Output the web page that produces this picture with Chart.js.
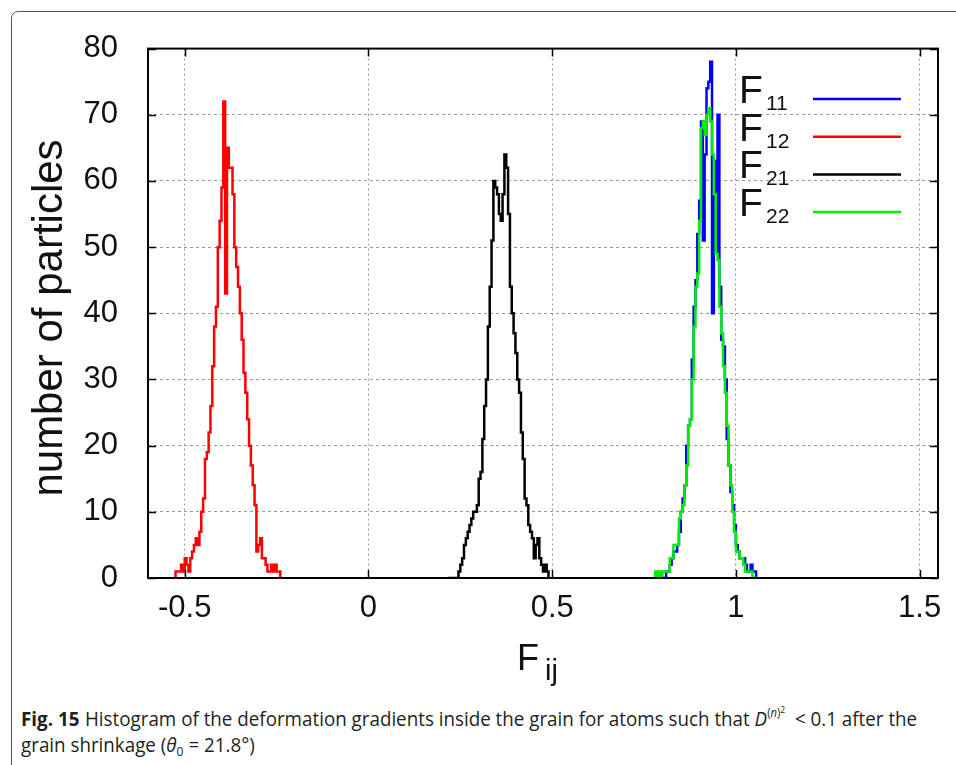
<!DOCTYPE html>
<html>
<head>
<meta charset="utf-8">
<script src="https://cdn.jsdelivr.net/npm/chart.js@4/dist/chart.umd.min.js"></script>
<style>
  html, body { margin: 0; padding: 0; background: #fff; width: 956px; height: 765px; overflow: hidden; }
  #frame { position: absolute; left: 11px; top: 11px; width: 980px; height: 800px; border: 1.5px solid #555; border-radius: 7px; box-sizing: border-box; }
  #wrap { position: absolute; left: 0; top: 0; width: 956px; height: 700px; }
  #caption { position: absolute; left: 21px; top: 706px; font: 20px "Open Sans", sans-serif; line-height: 26px; color: #231f20; white-space: nowrap; transform-origin: 0 0; }
  #caption div { line-height: 26px; height: 26px; }
  #caption b { font-weight: bold; margin-right: 6px; }
  #caption sup, #caption sub { line-height: 0; vertical-align: baseline; position: relative; }
</style>
</head>
<body>
<div id="frame"></div>
<div id="wrap"><canvas id="chart" width="956" height="700"></canvas></div>
<div id="caption">
  <div id="cap1"><b>Fig. 15</b>Histogram of the deformation gradients inside the grain for atoms such that <i>D</i><sup style="font-size:12px;top:-9px">(<i>n</i>)<sup style="font-size:9px;top:-4px">2</sup></sup> &nbsp;&lt; 0.1 after the</div>
  <div>grain shrinkage (<i>θ</i><sub style="font-size:13px;top:4px">0</sub> = 21.8°)</div>
</div>
<script>
/* Histogram of deformation gradient components F_ij */

const binWidth = 0.005;

// first bin left edge for each component
const f11Start = 0.775;
const f12Start = -0.530;
const f21Start = 0.215;
const f22Start = 0.775;

// counts per bin
const f11Counts = [0,0,0,0,0,0,0,1,1,2,3,4,4,5,7,10,12,14,20,23,24,33,41,45,52,57,69,51,64,74,75,78,40,63,49,70,44,36,35,30,21,17,13,11,8,5,4,3,3,3,2,1,1,2,1,1,0];
const f12Counts = [0,1,1,1,2,1,3,2,1,3,4,5,6,5,7,10,12,18,19,22,26,32,38,41,50,54,59,72,43,65,62,62,58,50,47,44,40,36,31,28,24,20,17,14,11,4,5,6,3,3,2,1,1,2,1,2,1,1,0];
const f21Counts = [0,0,0,0,0,0,1,2,3,5,6,7,8,9,10,10,11,15,16,21,26,30,38,44,51,60,59,58,55,54,58,64,62,55,44,40,37,34,30,28,22,18,12,11,8,7,6,3,5,6,3,2,1,2,1,0];
const f22Counts = [0,1,0,1,0,1,1,1,1,3,3,5,5,5,9,10,11,14,17,23,24,30,38,44,46,54,68,69,67,70,71,69,64,58,49,48,41,37,32,28,23,17,14,10,7,4,4,3,3,2,1,1,1,1,0,0,0];

const seriesSubs = ['11', '12', '21', '22'];
const seriesColors = ['#0000ff', '#ff0000', '#000000', '#00ee00'];

const xTicks = [-0.5, 0, 0.5, 1, 1.5];
const yTicks = [0, 10, 20, 30, 40, 50, 60, 70, 80];

const FONT = '"Liberation Sans", Arial, sans-serif';

function toPoints(start, counts) {
  return counts.map((c, i) => ({ x: start + (i + 0.5) * binWidth, y: c }));
}

// gnuplot-like frame with inward ticks, legend and axis titles
const gnuplotDecor = {
  id: 'gnuplotDecor',
  afterDatasetsDraw(chart) {
    const { ctx, chartArea: a, scales } = chart;
    ctx.save();
    ctx.strokeStyle = '#000';
    ctx.lineWidth = 1.5;
    ctx.beginPath();
    yTicks.forEach(v => {
      const y = Math.round(scales.y.getPixelForValue(v)) + 0.5;
      ctx.moveTo(a.left, y); ctx.lineTo(a.left + 8, y);
      ctx.moveTo(a.right, y); ctx.lineTo(a.right - 8, y);
    });
    xTicks.forEach(v => {
      const x = Math.round(scales.x.getPixelForValue(v)) + 0.5;
      ctx.moveTo(x, a.bottom); ctx.lineTo(x, a.bottom - 8);
      ctx.moveTo(x, a.top); ctx.lineTo(x, a.top + 8);
    });
    ctx.stroke();
    ctx.lineWidth = 2;
    ctx.strokeRect(a.left, a.top, a.right - a.left, a.bottom - a.top);

    // legend
    ctx.fillStyle = '#111';
    ctx.textAlign = 'left';
    ctx.textBaseline = 'alphabetic';
    seriesSubs.forEach((s, i) => {
      const y = 99 + i * 37.7;
      ctx.font = '39px ' + FONT;
      ctx.fillText('F', 739, y + 4);
      ctx.font = '21px ' + FONT;
      ctx.fillText(s, 766, y + 11);
      ctx.strokeStyle = seriesColors[i];
      ctx.lineWidth = 2.5;
      ctx.beginPath();
      ctx.moveTo(813, y); ctx.lineTo(901, y);
      ctx.stroke();
    });

    // x title
    ctx.font = '36px ' + FONT;
    ctx.fillText('F', 517, 670);
    ctx.font = '29px ' + FONT;
    ctx.fillText('ij', 545, 680);

    // y title
    ctx.translate(62, 318);
    ctx.rotate(-Math.PI / 2);
    ctx.textAlign = 'center';
    ctx.font = '42px ' + FONT;
    ctx.fillText('number of particles', 0, 0);
    ctx.restore();
  }
};

const lineStyle = (label, color, data, order) => ({
  label, data, order,
  borderColor: color,
  borderWidth: 2.5,
  pointRadius: 0,
  stepped: 'middle',
  fill: false,
});

new Chart(document.getElementById('chart'), {
  type: 'line',
  data: {
    datasets: [
      lineStyle('F11', seriesColors[0], toPoints(f11Start, f11Counts), 4),
      lineStyle('F12', seriesColors[1], toPoints(f12Start, f12Counts), 3),
      lineStyle('F21', seriesColors[2], toPoints(f21Start, f21Counts), 2),
      lineStyle('F22', seriesColors[3], toPoints(f22Start, f22Counts), 1),
    ]
  },
  options: {
    responsive: false,
    animation: false,
    events: [],
    layout: { padding: { left: 0, right: 18, top: 48, bottom: 0 } },
    plugins: { legend: { display: false }, tooltip: { enabled: false } },
    scales: {
      x: {
        type: 'linear',
        min: -0.6,
        max: 1.55,
        afterBuildTicks: s => { s.ticks = xTicks.map(v => ({ value: v })); },
        afterFit: s => { s.height = 122; },
        grid: { color: '#9a9a9a', lineWidth: 1, drawTicks: false },
        border: { display: false, dash: [2, 3] },
        ticks: { padding: 12, color: '#111', font: { family: FONT, size: 31 }, callback: v => String(v) }
      },
      y: {
        min: 0,
        max: 80,
        afterBuildTicks: s => { s.ticks = yTicks.map(v => ({ value: v })); },
        afterFit: s => { s.width = 148; },
        grid: { color: '#9a9a9a', lineWidth: 1, drawTicks: false },
        border: { display: false, dash: [3, 3] },
        ticks: { padding: 30, color: '#111', font: { family: FONT, size: 31 }, callback: v => String(v) }
      }
    }
  },
  plugins: [gnuplotDecor]
});

// squeeze the caption to the width of the printed figure caption
const cap = document.getElementById('caption');
const cap1 = document.getElementById('cap1');
cap.style.transform = 'scaleX(' + (896 / cap1.scrollWidth) + ')';
</script>
</body>
</html>
